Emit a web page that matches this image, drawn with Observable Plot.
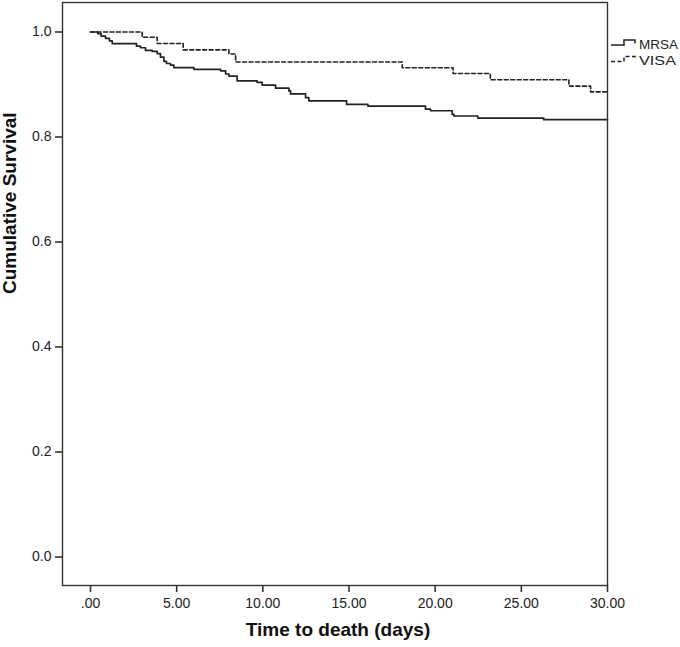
<!DOCTYPE html>
<html>
<head>
<meta charset="utf-8">
<script src="https://cdn.jsdelivr.net/npm/d3@7"></script>
<script src="https://cdn.jsdelivr.net/npm/@observablehq/plot@0.6"></script>
<style>
  html, body { margin: 0; padding: 0; background: #fff; }
  #chart { width: 680px; height: 647px; }
  svg { display: block; }
</style>
</head>
<body>
<div id="chart"></div>
<script>
// Kaplan-Meier step data
const mrsaTime = [0, 0.42, 0.62, 0.87, 1.10, 1.26, 2.67, 2.90, 3.19, 3.58, 3.87, 4.06, 4.26, 4.41, 4.64, 4.84, 6.00, 7.55, 7.84, 8.03, 8.51, 9.67, 9.96, 10.74, 11.51, 11.61, 12.48, 12.67, 14.86, 16.10, 19.44, 19.73, 20.99, 21.09, 22.48, 26.30, 30.00];
const mrsaSurv = [1.000, 0.997, 0.992, 0.988, 0.983, 0.978, 0.973, 0.970, 0.965, 0.963, 0.959, 0.952, 0.944, 0.940, 0.937, 0.932, 0.929, 0.926, 0.920, 0.916, 0.907, 0.904, 0.899, 0.893, 0.888, 0.882, 0.875, 0.869, 0.862, 0.859, 0.853, 0.850, 0.843, 0.840, 0.836, 0.833, 0.833];

const visaTime = [0, 3.00, 3.87, 5.38, 8.03, 8.42, 18.09, 21.04, 23.20, 27.76, 29.02, 30.00];
const visaSurv = [1.000, 0.990, 0.978, 0.966, 0.958, 0.943, 0.932, 0.921, 0.909, 0.897, 0.886, 0.886];

const seriesNames = ["MRSA", "VISA"];
const xTicks = [0, 5, 10, 15, 20, 25, 30];
const xTickLabels = [".00", "5.00", "10.00", "15.00", "20.00", "25.00", "30.00"];
const yTicks = [0, 0.2, 0.4, 0.6, 0.8, 1.0];
const yTickLabels = ["0.0", "0.2", "0.4", "0.6", "0.8", "1.0"];
const xTitle = "Time to death (days)";
const yTitle = "Cumulative Survival";

const mrsa = mrsaTime.map((t, i) => ({t, s: mrsaSurv[i], g: seriesNames[0]}));
const visa = visaTime.map((t, i) => ({t, s: visaSurv[i], g: seriesNames[1]}));

const ink = "#222";
const xFmt = d => xTickLabels[xTicks.indexOf(d)];
const yFmt = d => yTickLabels[yTicks.findIndex(v => Math.abs(v - d) < 1e-9)];

const plot = Plot.plot({
  width: 680,
  height: 647,
  marginLeft: 62,
  marginRight: 73,
  marginTop: 2,
  marginBottom: 62,
  style: { fontFamily: "'Liberation Sans', Arial, sans-serif", fontSize: "14px", color: ink, background: "#fff" },
  x: { domain: [-1.625, 30], ticks: xTicks, tickFormat: xFmt, label: null },
  y: { domain: [-0.0543, 1.0562], ticks: yTicks, tickFormat: yFmt, label: null },
  marks: [
    Plot.line(mrsa, { x: "t", y: "s", curve: "step-after", stroke: ink, strokeWidth: 1.7 }),
    Plot.line(visa, { x: "t", y: "s", curve: "step-after", stroke: ink, strokeWidth: 1.6, strokeDasharray: "4,2.5" }),
    Plot.frame({ stroke: "#333", strokeWidth: 1.4 }),
    Plot.axisX({ ticks: xTicks, tickSize: 7, tickPadding: 6, tickFormat: xFmt, stroke: "#333", strokeWidth: 1.6, fill: ink, label: null }),
    Plot.axisY({ ticks: yTicks, tickSize: 7, tickPadding: 4, tickFormat: yFmt, stroke: "#333", strokeWidth: 1.6, fill: ink, label: null }),
    Plot.text([xTitle], { frameAnchor: "bottom", text: d => d, dy: 50, dx: 3, fontSize: 19, fontWeight: "bold", fill: "#111" }),
    Plot.text([yTitle], { frameAnchor: "left", text: d => d, rotate: -90, dx: -53, fontSize: 19, fontWeight: "bold", fill: "#111" })
  ]
});

document.getElementById("chart").appendChild(plot);

// Legend to the right of the frame
const svg = d3.select(plot);
const lg = svg.append("g").attr("transform", "translate(611,40)").attr("text-anchor", "start");
const rowGap = 16.5;
seriesNames.forEach((name, i) => {
  const gy = i * rowGap;
  lg.append("path")
    .attr("d", `M0,${gy + 5} H13 V${gy} H24 V${gy + 3.5}`)
    .attr("fill", "none")
    .attr("stroke", ink)
    .attr("stroke-width", 1.5)
    .attr("stroke-dasharray", i === 1 ? "4,2.5" : null);
  lg.append("text")
    .attr("x", 28)
    .attr("y", gy + 8.6)
    .attr("text-anchor", "start")
    .attr("font-family", "'Liberation Sans', Arial, sans-serif")
    .attr("font-size", 13)
    .attr("fill", ink)
    .attr("textLength", i === 0 ? 39 : 37)
    .attr("lengthAdjust", "spacingAndGlyphs")
    .text(name);
});
</script>
</body>
</html>
